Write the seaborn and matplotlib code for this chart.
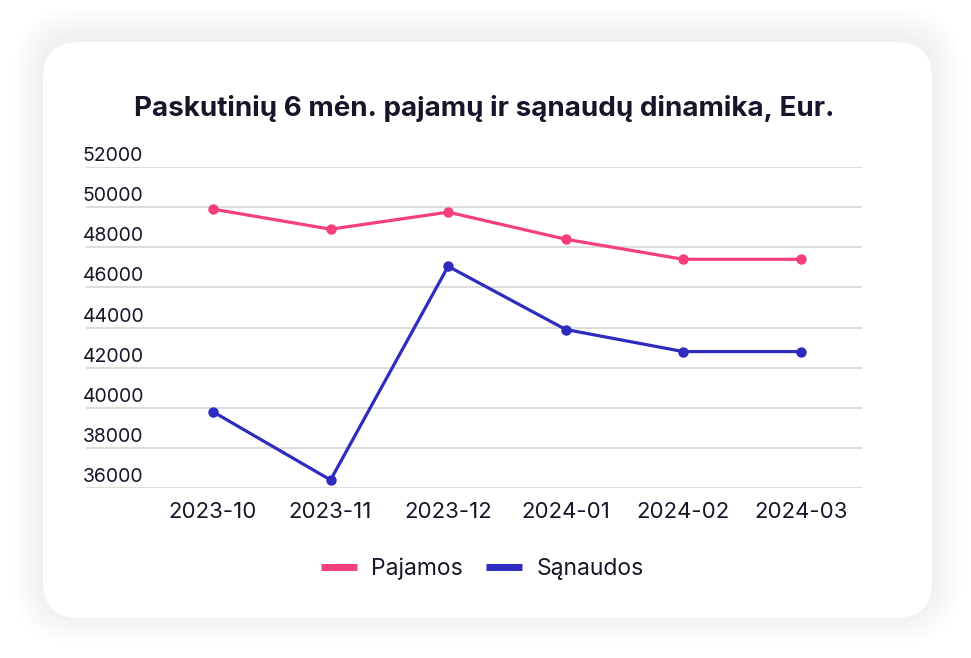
import matplotlib
matplotlib.use('Agg')
import matplotlib.pyplot as plt
import matplotlib.transforms as mtransforms
from matplotlib.patches import FancyBboxPatch
from matplotlib.lines import Line2D
import seaborn as sns
import pandas as pd

months = ['2023-10', '2023-11', '2023-12', '2024-01', '2024-02', '2024-03']
pajamos = [49900, 48900, 49750, 48400, 47400, 47400]
sanaudos = [39800, 36400, 47050, 43900, 42800, 42800]
y_ticks = [36000, 38000, 40000, 42000, 44000, 46000, 48000, 50000, 52000]
series_names = ['Pajamos', 'Sąnaudos']

PINK = '#F63F7B'
BLUE = '#2E2BBE'
TEXT = '#16162A'
W, H = 971, 658

df = pd.DataFrame({
    'month': months * 2,
    'value': pajamos + sanaudos,
    'series': [series_names[0]] * len(months) + [series_names[1]] * len(months),
})

sns.set_style('white')
plt.rcParams['font.family'] = ['Inter', 'DejaVu Sans']

fig = plt.figure(figsize=(W / 100, H / 100), dpi=100)
fig.patch.set_facecolor('white')

# card with a very soft shadow
for i in range(14, 0, -1):
    pad = i * 2.2
    shadow = FancyBboxPatch((43 - pad, H - 618 - pad + 4), 889 + 2 * pad, 576 + 2 * pad,
                            boxstyle=f'round,pad=0,rounding_size={36 + pad}',
                            transform=None, facecolor='black', edgecolor='none',
                            alpha=0.003, zorder=0)
    fig.patches.append(shadow)
card = FancyBboxPatch((43, H - 618), 889, 576, boxstyle='round,pad=0,rounding_size=36',
                      transform=None, facecolor='white', edgecolor='none', zorder=1)
fig.patches.append(card)

ax = fig.add_axes([86 / W, (H - 488) / H, (862 - 86) / W, (488 - 167) / H])
ax.set_zorder(5)
ax.set_facecolor('none')

sns.lineplot(data=df, x='month', y='value', hue='series', palette=[PINK, BLUE],
             marker='o', markersize=7.5, markeredgewidth=0, linewidth=2.3,
             sort=False, legend=False, ax=ax, zorder=3)

ax.set_xlim(-1.08, 5.52)
ax.set_ylim(y_ticks[0], y_ticks[-1])
ax.set_yticks(y_ticks)
ax.yaxis.grid(True, color='#DCDCDC', linewidth=1.4)
ax.set_axisbelow(True)
for s in ax.spines.values():
    s.set_visible(False)
ax.set_xlabel('')
ax.set_ylabel('')
ax.set_xticks(range(len(months)))
ax.set_xticklabels(months, fontsize=16, color=TEXT)
ax.tick_params(axis='x', length=0, pad=10)
ax.tick_params(axis='y', length=0, labelleft=False)

# y labels sit above their gridlines, left aligned
trans = mtransforms.blended_transform_factory(ax.transAxes, ax.transData)
off = mtransforms.offset_copy(trans, fig=fig, x=-3, y=2, units='dots')
for v in y_ticks:
    ax.text(0, v, str(v), transform=off, ha='left', va='bottom',
            fontsize=14, color=TEXT)

fig.text(484 / W, 1 - 108 / H, 'Paskutinių 6 mėn. pajamų ir sąnaudų dinamika, Eur.',
         ha='center', va='center', fontsize=20, fontweight='bold', color=TEXT)

handles = [Line2D([], [], color=PINK, linewidth=5, solid_capstyle='butt'),
           Line2D([], [], color=BLUE, linewidth=5, solid_capstyle='butt')]
fig.legend(handles, series_names, loc='center', bbox_to_anchor=(482 / W, 1 - 569 / H),
           ncol=2, frameon=False, fontsize=16.5, handlelength=1.6, handletextpad=0.6,
           columnspacing=1.0, labelcolor=TEXT)

fig.savefig('out.png', dpi=100, facecolor='white')
plt.close(fig)
